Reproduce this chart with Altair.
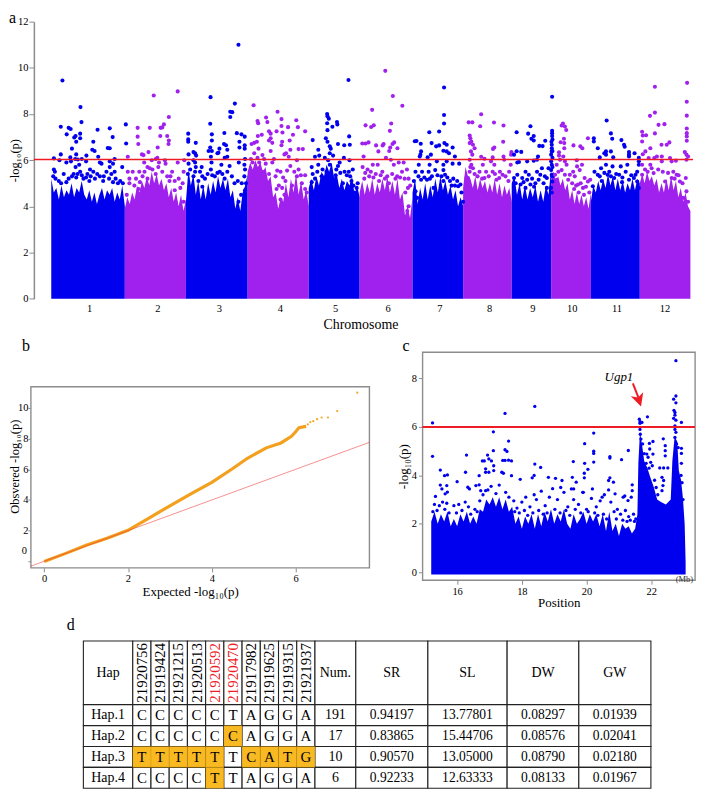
import numpy as np
import pandas as pd
import altair as alt

SERIF = "Liberation Serif"
BLUE = "#0000EE"
PURPLE = "#A020EE"
GRAY = "#8c8c8c"
RED = "#EE1C25"

# ---------- panel a: genome-wide scan ----------
chrom_bounds = [152, 376, 562, 750, 936, 1091, 1252, 1406, 1554, 1674, 1795, 1944, 2098]
chrom_ticks = [267, 475, 662, 848, 1016, 1176, 1334, 1485, 1617, 1737, 1873, 2019]
threshold = 6.03

env = {
    1: [5.2,4.6,4.8,4.3,4.9,4.4,4.7,4.5,5.0,4.4,4.8,4.6,5.1,4.5,4.3,4.7,4.2,4.6,4.1,4.5,4.8,4.3,4.7,4.5,4.8,4.2,4.6,4.3,4.9,4.0],
    2: [3.9,4.4,4.1,4.6,4.3,4.9,4.6,5.1,4.8,5.3,4.9,5.5,5.0,5.4,4.9,5.2,4.7,5.0,4.4,4.8,4.2,4.6,4.0,4.5,3.8,4.3],
    3: [4.2,5.6,4.9,5.4,4.5,5.1,4.3,4.9,4.3,5.0,4.5,5.1,4.6,5.3,4.8,5.2,4.7,5.2,4.4,4.7,3.9,4.4,3.8,4.6,4.9,5.4],
    4: [5.5,5.9,5.6,6.0,5.7,5.9,5.5,5.7,5.1,5.3,4.4,4.6,3.9,4.4,4.2,5.0,4.4,5.2,4.6,5.4,4.5,5.1,4.3,4.7,4.0],
    5: [4.8,5.2,4.7,5.3,4.9,5.5,5.3,5.8,5.5,5.9,5.2,5.4,4.8,5.2,4.7,5.1,4.9,5.3,4.5,4.9,4.4],
    6: [4.6,5.1,4.5,5.0,4.6,5.2,4.5,5.0,4.6,5.2,4.7,5.3,4.6,5.1,4.5,5.2,4.3,4.6,3.6,4.0,3.5,4.4],
    7: [4.6,5.2,4.1,4.8,4.3,5.0,4.3,4.9,4.4,5.2,4.6,5.3,4.7,5.1,4.5,4.9,4.3,4.7,4.0,4.4,4.0],
    8: [4.8,5.7,5.3,5.2,4.8,5.3,4.7,5.2,4.8,5.1,4.6,5.0,4.6,5.2,4.5,5.0,4.4,4.9,4.5,4.8,4.2],
    9: [5.0,5.3,4.5,5.0,4.3,4.9,4.3,4.8,4.4,4.9,4.2,4.7,4.2,4.9,4.5,5.6],
    10: [5.4,5.5,5.1,5.3,4.9,5.2,4.7,5.0,4.3,4.7,4.1,4.6,4.1,4.5,4.0,4.4,3.9,4.6],
    11: [4.2,4.9,4.6,5.1,4.7,5.2,4.8,5.4,4.9,5.3,4.7,5.2,4.7,5.1,4.6,5.0,4.7,5.2,4.7,5.2,5.0],
    12: [5.0,5.4,5.0,5.5,5.1,5.3,4.9,5.2,4.6,5.0,4.6,5.2,4.7,5.3,4.7,5.1,4.4,4.8,4.2,4.6,4.0,3.8],
}

top = {
    1: [(186,9.45),(241,8.3),(244,7.65),(181,7.45),(205,7.4),(211,7.35),(293,7.32),(330,7.38),(379,7.55),(199,7.12),(240,7.15),(226,7.05),(222,6.98),(240,6.95),(228,6.8),(339,7.0),(280,6.8),(380,6.72),(215,6.5),(324,6.53),(330,6.52),(277,6.45),(284,6.4),(181,6.25),(228,6.25),(259,6.2),(160,6.08),(210,6.12),(295,6.15),(177,6.0),(198,5.9),(212,5.95),(225,6.05),(233,6.03),(245,6.05),(258,5.95),(300,5.9),(305,5.85),(330,5.95),(345,6.05),(340,5.85),(160,5.6),(163,5.5),(158,5.3),(165,5.2),(237,5.8),(226,5.7),(240,5.5),(232,5.4),(220,5.4),(190,5.4),(270,5.6),(280,5.5),(262,5.4),(330,5.7),(345,5.5),(368,5.7),(300,5.3),(320,5.5),(335,5.4),(355,5.0),(370,5.0),(205,5.2),(250,5.2),(285,5.2),(310,5.1),
        (175,5.1),(215,5.3),(228,5.25),(245,5.35),(258,5.25),(272,5.3),(292,5.4),(312,5.3),(328,5.2),(348,5.2),(362,5.1),(182,5.0),(198,5.05),(268,5.1),(340,5.05)],
    2: [(537,8.98),(464,8.8),(510,7.87),(415,7.4),(452,7.4),(495,7.55),(490,7.42),(485,7.4),(415,7.02),(484,7.05),(505,7.05),(510,6.85),(509,6.7),(417,6.7),(476,6.55),(448,6.35),(428,6.25),(433,6.22),(385,6.15),(475,6.1),(470,6.05),(458,6.0),(498,6.0),(557,6.0),(537,5.9),(435,5.9),(500,5.85),(480,5.9),(445,5.7),(400,5.5),(385,5.5),(420,5.5),(460,5.6),(490,5.5),(520,5.5),(555,5.5),(540,5.2),(390,5.2),(430,5.3),(505,5.3),(470,5.4),(445,5.2),(512,5.1),(390,5.0),(382,4.5),(395,3.9),(530,4.2),(548,3.8),(535,3.7),(555,4.2),
        (410,5.2),(422,5.05),(436,5.5),(452,5.65),(478,5.7),(515,5.3),(528,5.1),(545,4.8),(552,5.0),(405,4.9),(418,4.75),(528,4.7)],
    3: [(722,11.0),(637,8.73),(711,8.45),(697,8.1),(703,8.08),(697,7.87),(636,7.58),(569,7.15),(641,7.12),(679,7.18),(717,7.17),(731,7.12),(741,7.02),(569,6.9),(569,6.8),(592,6.75),(641,6.85),(678,6.7),(684,6.65),(725,6.8),(725,6.55),(741,6.65),(741,6.5),(636,6.55),(631,6.4),(641,6.4),(664,6.5),(658,6.3),(661,6.32),(688,6.45),(570,6.25),(585,6.35),(590,6.3),(593,6.2),(638,6.15),(680,6.1),(688,6.15),(742,6.05),(585,6.0),(590,5.9),(592,5.7),(590,5.5),(570,5.85),(575,5.6),(568,5.4),(610,5.7),(605,5.5),(640,5.9),(638,5.6),(670,5.8),(665,5.5),(695,5.75),(723,5.9),(740,5.8),(742,5.6),(740,5.3),(745,5.0),(742,4.7),(720,5.1),(620,5.2),(650,5.3),(680,5.2),(710,5.0),(722,4.2),(600,4.3),(622,3.6),(720,3.55),(730,3.55),(598,4.0),(700,4.0),
        (585,5.3),(600,5.1),(612,5.3),(628,5.4),(642,5.35),(658,5.45),(673,5.4),(688,5.5),(702,5.3),(732,5.0),(612,4.85),(730,4.5)],
    4: [(768,8.38),(841,8.1),(853,7.78),(806,7.85),(898,7.73),(780,7.7),(782,7.6),(810,7.65),(873,7.43),(903,7.43),(853,7.48),(838,7.25),(815,7.25),(820,7.15),(925,7.25),(856,7.2),(888,7.1),(793,7.1),(781,7.05),(770,6.75),(762,6.7),(778,6.8),(820,6.95),(815,6.85),(825,6.75),(855,6.8),(878,6.85),(853,6.65),(783,6.5),(820,6.4),(905,6.48),(918,6.48),(880,6.45),(867,6.3),(862,6.25),(770,6.3),(795,6.22),(760,6.05),(780,6.1),(800,6.05),(830,6.05),(875,6.15),(900,6.0),(765,5.9),(785,5.9),(805,5.85),(825,5.9),(850,5.5),(880,5.75),(905,5.6),(925,5.35),(775,5.6),(795,5.5),(815,5.4),(835,5.3),(865,5.1),(900,5.3),(915,5.0),(925,4.75),(845,4.9),(855,4.8),(885,4.9),(930,4.6),
        (840,5.55),(858,5.25),(870,5.55),(892,5.5),(912,5.35),(838,4.75),(850,4.3),(862,4.5)],
    5: [(1057,9.47),(992,8.0),(993,7.9),(997,7.8),(992,7.6),(1022,7.65),(1023,7.55),(1008,7.45),(993,7.3),(1059,7.03),(988,6.95),(948,6.87),(993,6.8),(1025,6.7),(1044,6.65),(1061,6.67),(1000,6.6),(1003,6.5),(965,6.45),(1000,6.3),(968,6.2),(955,6.15),(1010,6.2),(985,6.1),(1043,6.1),(995,6.0),(1060,6.0),(1030,5.9),(945,5.7),(965,5.8),(1000,5.8),(1020,5.6),(1045,5.5),(1058,5.5),(1062,5.3),(1070,5.6),(1072,4.9),(1075,4.6),(955,5.2),(975,5.3),(990,5.5),(1010,5.2),(1040,5.0),(1085,5.0),
        (948,5.4),(962,5.5),(978,5.6),(1018,5.35),(1032,5.45),(1052,5.35),(1066,5.1),(1082,4.8),(1025,5.75),(945,5.05)],
    6: [(1169,9.87),(1192,8.78),(1221,8.36),(1129,8.18),(1187,7.59),(1109,7.51),(1134,7.51),(1126,7.44),(1183,7.27),(1118,6.77),(1109,6.72),(1099,6.72),(1141,6.64),(1164,6.7),(1161,6.64),(1196,6.77),(1191,6.7),(1148,6.38),(1184,6.55),(1181,6.4),(1206,6.52),(1103,6.16),(1171,6.1),(1186,6.02),(1146,5.8),(1131,5.8),(1100,5.7),(1115,5.6),(1125,5.5),(1140,5.4),(1160,5.5),(1175,5.3),(1195,5.8),(1210,5.9),(1225,5.9),(1235,5.6),(1205,5.3),(1220,5.5),(1240,5.2),(1245,4.9),(1105,5.2),(1150,5.1),(1180,5.0),(1230,4.6),(1240,4.0),(1245,3.4),(1236,3.8),
        (1108,5.45),(1120,5.3),(1133,5.25),(1155,5.35),(1168,5.2),(1190,5.4),(1200,5.2),(1214,5.25),(1228,5.2),(1238,4.8)],
    7: [(1348,9.15),(1348,7.96),(1348,7.59),(1333,7.24),(1303,7.21),(1259,6.82),(1264,6.83),(1277,6.71),(1310,6.74),(1324,6.6),(1333,6.64),(1349,6.74),(1356,6.67),(1374,6.55),(1278,6.38),(1346,6.41),(1356,6.38),(1363,6.3),(1308,6.24),(1276,6.24),(1274,6.16),(1298,6.13),(1381,6.16),(1356,5.95),(1326,5.95),(1271,5.8),(1304,5.8),(1346,5.8),(1374,5.85),(1394,5.85),(1261,5.5),(1281,5.5),(1301,5.5),(1321,5.57),(1346,5.57),(1351,5.37),(1278,5.15),(1296,5.15),(1311,5.3),(1346,5.1),(1371,4.9),(1381,4.9),(1391,4.87),(1261,4.65),(1316,4.8),(1401,4.6),(1406,4.2),(1266,4.37),(1318,4.2),
        (1270,5.3),(1288,5.25),(1305,5.2),(1328,5.35),(1340,5.3),(1358,5.25),(1366,5.1),(1376,5.2),(1388,5.1),(1398,4.95),(1256,5.1)],
    8: [(1461,7.99),(1423,7.64),(1434,7.64),(1500,7.63),(1458,7.47),(1529,7.5),(1426,7.07),(1428,6.95),(1431,6.81),(1436,6.67),(1426,6.74),(1528,6.8),(1501,6.55),(1497,6.49),(1441,6.52),(1430,6.38),(1434,6.24),(1553,6.35),(1461,6.15),(1552,6.24),(1496,6.12),(1529,6.16),(1471,6.06),(1426,6.02),(1431,5.8),(1491,5.95),(1501,5.8),(1466,5.8),(1531,6.02),(1551,5.8),(1516,5.23),(1526,5.37),(1456,5.5),(1476,5.5),(1496,5.5),(1471,5.23),(1421,5.23),(1416,5.23),(1426,5.5),(1508,5.15),(1546,5.5),
        (1441,5.4),(1450,5.3),(1464,5.2),(1484,5.3),(1503,5.4),(1518,5.5),(1535,5.3),(1544,5.1),(1428,5.7),(1436,5.65)],
    9: [(1677,8.75),(1611,7.47),(1569,7.21),(1604,7.15),(1621,7.05),(1614,6.93),(1621,6.85),(1656,6.84),(1638,6.62),(1648,6.61),(1677,7.27),(1677,7.17),(1677,7.05),(1569,6.39),(1583,6.36),(1561,6.24),(1634,6.16),(1621,5.98),(1571,5.9),(1576,5.92),(1601,5.95),(1631,6.02),(1676,6.67),(1678,6.9),(1675,6.8),(1676,6.52),(1676,6.38),(1674,6.24),(1678,6.1),(1674,5.95),(1676,5.8),(1674,5.57),(1676,5.37),(1678,5.08),(1674,4.8),(1676,4.6),(1678,6.4),(1678,5.7),(1678,5.3),(1561,5.23),(1571,5.37),(1596,5.5),(1606,5.37),(1586,5.23),(1601,5.15),(1631,5.5),(1646,5.65),(1641,5.37),(1626,5.0),(1651,5.0),(1566,5.0),(1581,4.95),(1661,5.23),(1666,5.65),(1661,4.8),(1611,4.95),
        (1590,5.05),(1616,5.2),(1622,4.85),(1636,5.15),(1655,5.3),(1596,4.8)],
    10: [(1710,7.59),(1706,7.5),(1716,7.46),(1720,7.31),(1713,6.93),(1703,6.78),(1714,6.74),(1786,6.95),(1742,6.64),(1763,6.6),(1769,6.52),(1698,6.34),(1714,6.52),(1698,6.2),(1711,6.16),(1752,6.0),(1716,5.95),(1701,6.02),(1691,5.8),(1721,5.8),(1768,5.8),(1753,5.73),(1696,5.5),(1706,5.57),(1741,5.5),(1761,5.57),(1716,5.37),(1731,5.37),(1686,5.37),(1746,5.3),(1776,5.23),(1793,5.15),(1786,5.08),(1756,4.95),(1771,4.8),(1691,5.15),
        (1726,5.15),(1738,5.0),(1750,4.9),(1764,5.0),(1780,4.85),(1790,4.6),(1744,4.75),(1758,4.6),(1774,4.5)],
    11: [(1843,7.72),(1856,7.16),(1804,6.95),(1804,6.81),(1860,6.93),(1888,6.87),(1896,6.67),(1898,6.58),(1816,6.52),(1841,6.38),(1836,6.3),(1856,6.38),(1911,6.35),(1911,6.24),(1928,6.3),(1911,6.16),(1822,6.12),(1841,6.24),(1863,6.13),(1941,6.1),(1941,5.95),(1806,5.5),(1826,5.65),(1841,5.8),(1861,5.73),(1886,5.73),(1906,5.8),(1941,5.8),(1936,5.5),(1931,5.37),(1816,5.37),(1846,5.37),(1856,5.3),(1866,5.23),(1881,5.37),(1901,5.5),(1911,5.15),(1926,5.23),(1801,4.87),(1806,4.37),(1811,4.2),(1936,5.08),(1941,4.8),
        (1822,5.3),(1836,5.45),(1851,5.5),(1872,5.4),(1891,5.25),(1918,5.35),(1828,5.1),(1890,5.05)],
    12: [(1990,9.18),(2088,9.35),(2087,8.53),(1990,8.06),(1975,7.92),(2087,7.93),(2001,7.53),(2019,7.56),(1951,7.23),(1990,7.16),(1953,7.07),(1963,7.08),(2087,7.37),(2087,7.17),(2087,7.03),(2087,6.84),(2034,6.77),(2010,6.67),(2026,6.67),(1951,6.81),(1976,6.52),(1961,6.38),(1953,6.26),(2081,6.35),(2086,6.24),(2091,6.16),(1996,6.16),(1988,6.09),(2011,6.16),(2036,6.09),(2054,5.98),(1971,6.09),(2086,6.02),(2011,5.95),(2041,5.95),(1951,5.8),(1976,5.8),(2046,5.5),(2056,5.37),(1986,5.44),(1951,5.37),(2041,5.23),(2066,5.08),(2084,5.23),(2086,4.65),(2091,4.2),(2076,4.37),(2021,5.08),
        (1960,5.6),(1968,5.5),(2000,5.6),(2014,5.5),(2030,5.45),(2050,5.2),(2062,5.35),(2074,5.0),(1980,5.65)],
}

# ---------- panel b: QQ plot ----------
qq_x = [0.0, 0.5, 1.0, 1.5, 2.0, 2.5, 3.0, 3.5, 4.0, 4.5, 4.85, 5.3, 5.65, 5.9, 6.0, 6.08, 6.25]
qq_y = [-0.02, 0.5, 1.05, 1.5, 2.02, 2.82, 3.62, 4.4, 5.15, 6.05, 6.72, 7.4, 7.72, 8.15, 8.45, 8.72, 8.8]
tail_x = [6.29, 6.35, 6.42, 6.51, 6.62, 6.77, 6.99, 7.47]
tail_y = [8.93, 9.08, 9.14, 9.27, 9.38, 9.38, 9.8, 11.0]

# ---------- panel c: regional scan ----------
c_env_x = [15.2,15.3,15.4,15.5,15.6,15.7,15.8,15.9,16.0,16.1,16.2,16.3,16.4,16.5,16.6,16.7,16.8,16.9,17.0,17.1,17.2,17.3,17.4,17.5,17.6,17.7,17.8,17.9,18.0,18.1,18.2,18.3,18.4,18.5,18.6,18.7,18.8,18.9,19.0,19.1,19.2,19.3,19.4,19.5,19.6,19.7,19.8,19.9,20.0,20.1,20.2,20.3,20.4,20.5,20.6,20.7,20.8,20.9,21.0,21.1,21.2,21.3,21.4,21.5,21.57,21.6,21.65,21.72,21.78,21.88,21.95,22.08,22.18,22.3,22.45,22.6,22.65,22.72,22.8,22.85,22.92,22.98,23.03,23.06]
c_env_y = [2.1,2.5,2.0,2.4,2.1,2.5,1.9,2.2,1.9,2.4,2.1,2.5,2.0,2.3,2.0,2.6,2.5,3.0,2.8,3.1,2.7,3.1,2.6,3.0,2.5,2.7,2.0,2.3,1.8,2.3,2.0,2.4,1.8,2.4,1.9,2.5,2.1,2.6,2.0,2.4,2.1,2.6,2.0,1.8,2.4,2.0,2.2,2.5,2.0,2.4,2.1,2.4,1.9,2.4,1.7,2.5,1.7,2.0,1.5,2.0,1.8,1.9,1.6,1.8,2.4,4.5,5.8,5.2,4.6,4.3,4.0,3.5,3.0,2.9,2.8,3.0,4.6,5.6,5.4,4.2,3.8,3.0,2.0,0.4]
c_pts = [(15.24,6.17),(15.24,4.79),(17.48,6.56),(18.4,6.85),(17.12,5.8),(17.59,5.42),(20.22,5.75),(19.94,5.31),(16.29,4.84),(16.94,4.84),(17.12,5.02),(17.48,5.06),(17.54,4.99),(16.78,4.6),(16.84,4.6),(17.41,4.62),(17.48,4.62),(17.59,4.63),(17.68,4.6),(16.98,4.68),(17.06,4.6),(18.4,4.47),(18.58,4.33),(19.59,4.57),(19.94,4.5),(20.22,5.0),(20.22,4.91),(20.22,4.55),(20.72,4.77),(20.72,4.72),(21.08,4.65),(21.29,5.03),(15.48,4.22),(16.26,4.13),(15.61,3.99),(15.7,4.02),(16.68,3.99),(16.88,4.27),(16.98,4.13),(16.88,4.13),(17.13,4.4),(17.13,4.2),(17.38,4.13),(17.43,4.09),(17.68,3.99),(20.04,4.25),(19.93,4.09),(19.93,3.9),(19.56,3.92),(18.82,3.92),(19.04,3.88),(19.24,3.79),(18.32,3.9),(18.38,4.0),(17.95,3.84),(16.0,3.74),(15.48,3.6),(15.53,3.44),(15.68,3.58),(15.63,3.24),(15.7,3.31),(15.33,3.13),(16.33,3.51),(16.38,3.44),(16.58,3.58),(16.68,3.61),(16.73,3.37),(16.88,3.37),(19.68,3.72),(19.53,3.44),(19.6,3.44),(19.88,3.3),(20.18,3.44),(20.48,3.1),(20.72,3.9),(20.68,3.79),(20.83,3.72),(20.88,3.24),(21.13,3.1),(21.18,3.15),(21.41,3.61),(21.41,3.37),(21.28,2.96),(21.38,3.1),
    (21.63,6.32),(21.65,6.22),(21.71,6.19),(21.65,6.15),(21.88,6.42),(22.05,5.4),(21.94,5.32),(21.65,5.9),(21.66,5.7),(21.68,5.5),(21.73,5.3),(21.95,5.09),(22.05,4.88),(21.86,4.88),(21.98,4.54),(22.03,4.4),(21.9,4.75),(21.78,4.9),(21.84,4.5),(21.93,4.3),(22.1,3.8),(22.15,3.5),(22.2,3.2),
    (22.76,8.74),(22.76,7.28),(22.69,7.15),(22.76,7.0),(22.7,6.69),(22.73,6.6),(22.73,6.49),(22.69,6.36),(22.76,6.28),(22.93,6.19),(22.73,6.05),(22.73,5.9),(22.76,5.78),(22.73,5.57),(22.78,5.3),(22.83,5.15),(22.93,5.12),(22.93,4.91),(22.93,4.5),(22.37,5.51),(22.43,5.23),(22.43,5.02),(22.43,4.81),(22.26,4.31),(22.38,4.31),(22.51,4.31),(22.33,3.92),(22.38,3.79),(22.36,3.58),(22.33,3.37),(22.92,4.0),(22.95,3.7),(22.98,3.0),
    (15.3,2.8),(15.45,2.75),(15.55,2.9),(15.68,2.85),(15.9,2.75),(16.05,2.8),(16.25,2.9),(16.35,2.7),(16.55,2.6),(16.7,2.95),(16.8,3.2),(16.95,3.4),(17.05,3.55),(17.2,3.25),(17.3,3.6),(17.5,3.3),(17.6,3.1),(17.75,2.95),(17.85,2.65),(18.0,2.9),(18.12,3.1),(18.25,2.7),(18.38,3.2),(18.45,3.0),(18.6,3.35),(18.72,2.75),(18.85,3.1),(18.95,3.45),(19.1,3.0),(19.2,3.5),(19.3,3.3),(19.42,2.7),(19.6,3.0),(19.75,2.8),(19.9,3.3),(20.0,2.6),(20.15,3.05),(20.3,2.7),(20.42,2.95),(20.55,3.2),(20.68,3.4),(20.75,2.9),(20.85,2.5),(20.95,2.6),(21.05,2.4),(21.2,2.55),(21.3,2.3),(21.45,2.4),(21.52,2.2),
    (15.25,2.5),(15.38,2.55),(15.62,2.6),(15.75,2.45),(15.98,2.45),(16.15,2.55),(16.42,2.4),(16.62,2.5),(17.78,2.5),(17.92,2.45),(18.08,2.55),(18.18,2.35),(18.34,2.45),(18.52,2.55),(18.66,2.4),(18.78,2.45),(19.02,2.6),(19.18,2.45),(19.36,2.55),(19.48,2.35),(19.65,2.6),(19.82,2.45),(20.05,2.5),(20.25,2.45),(20.35,2.35),(20.52,2.4),(20.62,2.2),(20.92,2.2),(21.12,2.15),(21.25,2.1),(21.35,2.15),(21.48,2.1)]
c_threshold = 6.0
c_gene = "Ugp1"

# ---------- panel d: haplotype table ----------
sites = ["21920756", "21919424", "21921215", "21920513", "21920592", "21920470", "21917982", "21919625", "21919315", "21921937"]
red_sites = ["21920592", "21920470"]
traits = ["SR", "SL", "DW", "GW"]
haps = ["Hap.1", "Hap.2", "Hap.3", "Hap.4"]
alleles = ["CCCCCTAGGA", "CCCCCCAGGA", "TTTTTTCATG", "CCCCTTAGGA"]
counts = ["191", "17", "10", "6"]
sr = ["0.94197", "0.83865", "0.90570", "0.92233"]
sl = ["13.77801", "15.44706", "13.05000", "12.63333"]
dw = ["0.08297", "0.08576", "0.08790", "0.08133"]
gw = ["0.01939", "0.02041", "0.02180", "0.01967"]
highlight = {(1, 5), (2, 0), (2, 1), (2, 2), (2, 3), (2, 4), (2, 6), (2, 7), (2, 8), (2, 9), (3, 4)}
col_widths = [49.6] + [18.3] * 10 + [41, 72.4, 79.6, 72, 72.4]
row_heights = [64, 21, 21, 21, 21]


def letter(txt, x, y):
    return alt.Chart(pd.DataFrame({"t": [txt]})).mark_text(
        font=SERIF, fontSize=16, align="left", baseline="top", color="black"
    ).encode(text="t:N", x=alt.value(x), y=alt.value(y))


def anchor(x, y=0):
    return alt.Chart(pd.DataFrame({"a": [0]})).mark_rule(opacity=0).encode(
        x=alt.value(x), y=alt.value(y), y2=alt.value(y + 1))


# ----- chart a -----
rows = []
for c, vals in env.items():
    for p, v in zip(np.linspace(chrom_bounds[c - 1], chrom_bounds[c], len(vals)), vals):
        rows.append({"chr": c, "pos": float(p), "val": v, "grp": "odd" if c % 2 else "even"})
env_df = pd.DataFrame(rows)
pts_df = pd.DataFrame([
    {"chr": c, "pos": p, "val": v, "grp": "odd" if c % 2 else "even"}
    for c, lst in top.items() for p, v in lst])

asx = alt.Scale(domain=[90, 2106])
asy = alt.Scale(domain=[0, 12])
ax = alt.X("pos:Q", scale=asx,
           axis=alt.Axis(values=chrom_ticks, labelExpr=f"indexof({chrom_ticks}, datum.value)+1",
                         domain=False, ticks=False, labelPadding=5, grid=False, title="Chromosome",
                         titleFontSize=14, titlePadding=3, titleX=331, labelFontSize=10.5))
ay = alt.Y("val:Q", stack=None, scale=asy,
           axis=alt.Axis(values=[0, 2, 4, 6, 8, 10, 12], grid=False, title="-log₁₀(p)", titleFontSize=12.5,
                         domainColor=GRAY, domainWidth=1.5, tickColor=GRAY, tickSize=5, labelFontSize=10.5,
                         labelPadding=1, offset=-3, titlePadding=-4))
colr = alt.Color("grp:N", scale=alt.Scale(domain=["odd", "even"], range=[BLUE, PURPLE]), legend=None)
a_area = alt.Chart(env_df).mark_area(line=False).encode(x=ax, y=ay, color=colr, detail="chr:N")
a_pts = alt.Chart(pts_df).mark_circle(size=17, opacity=1).encode(
    x=alt.X("pos:Q", scale=asx), y=alt.Y("val:Q", scale=asy), color=colr)
a_red = alt.Chart(pd.DataFrame({"x0": [99], "x1": [2106], "y": [threshold]})).mark_rule(
    color=RED, strokeWidth=1.6).encode(x=alt.X("x0:Q", scale=asx), x2="x1:Q", y=alt.Y("y:Q", scale=asy))
chart_a = alt.layer(a_area, a_pts, a_red, letter("a", -22, -11.7)).properties(width=665, height=278.3)

# ----- chart b -----
bsx = alt.Scale(domain=[-0.316, 7.76])
bsy = alt.Scale(domain=[-1.235, 13.64])
bx = alt.X("x:Q", scale=bsx,
           axis=alt.Axis(values=[0, 2, 4, 6], grid=False, domain=False, offset=-12.4, tickColor=GRAY, tickSize=4,
                         labelFontSize=10.5, labelPadding=2, title="Expected -log₁₀(p)", titleFontSize=13,
                         titlePadding=1, titleX=160))
by = alt.Y("y:Q", scale=bsy,
           axis=alt.Axis(values=[0, 2, 4, 6, 8, 10], labelExpr="datum.value == 0 ? '' : datum.value", grid=False,
                         domain=False, tickColor=GRAY, tickSize=3, labelFontSize=10.5, labelPadding=0,
                         title="Obsvered -log₁₀(p)", titleFontSize=12.5, titlePadding=-4))
bx0 = alt.X("x:Q", scale=bsx)
by0 = alt.Y("y:Q", scale=bsy)
b_frame = alt.Chart(pd.DataFrame({"x": [-0.316], "x2": [7.76], "y": [-0.43], "y2": [11.39]})).mark_rect(
    fill="white", stroke=GRAY, strokeWidth=1.4).encode(x=bx, x2="x2:Q", y=by, y2="y2:Q")
b_curve = alt.Chart(pd.DataFrame({"x": qq_x, "y": qq_y})).mark_line(color="#F2A01E", strokeWidth=3.2).encode(
    x=bx0, y=by0)
b_tail = alt.Chart(pd.DataFrame({"x": tail_x, "y": tail_y})).mark_circle(color="#F5A623", size=5, opacity=1).encode(
    x=bx0, y=by0)
b_line = alt.Chart(pd.DataFrame({"x": [-0.316], "x2": [7.76], "y": [-0.316], "y2": [7.76]})).mark_rule(
    color="#EE3333", strokeWidth=1, opacity=0.55).encode(x=bx0, x2="x2:Q", y=by0, y2="y2:Q")
b_zero = alt.Chart(pd.DataFrame({"y": [0.7], "t": ["0"]})).mark_text(
    font=SERIF, fontSize=10.5, align="right", baseline="middle").encode(x=alt.value(-4), y=by0, text="t:N")
chart_b = alt.layer(b_frame, b_curve, b_tail, b_line, b_zero, letter("b", -9, -14), anchor(-22)).properties(
    width=340, height=229)

# ----- chart c -----
csx = alt.Scale(domain=[14.93, 23.35])
csy = alt.Scale(domain=[-0.33, 9.09])
cx = alt.X("x:Q", scale=csx,
           axis=alt.Axis(values=[16, 18, 20, 22], grid=False, domain=False, tickColor=GRAY, tickSize=4,
                         labelFontSize=10.5, labelPadding=2, title="Position", titleFontSize=13, titlePadding=0))
cy = alt.Y("y:Q", scale=csy,
           axis=alt.Axis(values=[0, 2, 4, 6, 8], grid=False, domain=False, tickColor=GRAY, tickSize=4,
                         labelFontSize=10.5, labelPadding=2, title="-log₁₀(p)", titleFontSize=13, titlePadding=1))
cx0 = alt.X("x:Q", scale=csx)
cy0 = alt.Y("y:Q", scale=csy)
c_area = alt.Chart(pd.DataFrame({"x": c_env_x, "y": c_env_y})).mark_area(color=BLUE).encode(
    x=cx, y=cy, y2=alt.datum(-0.09))
c_dots = alt.Chart(pd.DataFrame(c_pts, columns=["x", "y"])).mark_circle(color=BLUE, size=11, opacity=1).encode(
    x=cx0, y=cy0)
c_red = alt.Chart(pd.DataFrame({"x": [14.93], "x1": [23.35], "y": [c_threshold]})).mark_rule(
    color=RED, strokeWidth=2).encode(x=cx0, x2="x1:Q", y=cy0)
c_shaft = alt.Chart(pd.DataFrame({"x": [21.43], "x2": [21.62], "y": [7.8], "y2": [7.15]})).mark_rule(
    color=RED, strokeWidth=2).encode(x=cx0, x2="x2:Q", y=cy0, y2="y2:Q")
c_head = alt.Chart(pd.DataFrame({"x": [21.62], "y": [7.1]})).mark_point(
    shape="M0,1 L-1,-1 L0,-0.45 L1,-1 Z", filled=True, color=RED, size=170, angle=342, opacity=1).encode(
    x=cx0, y=cy0)
c_label = alt.Chart(pd.DataFrame({"x": [21.0], "y": [8.05], "t": [c_gene]})).mark_text(
    font=SERIF, fontSize=13, fontStyle="italic", color="black").encode(x=cx0, y=cy0, text="t:N")
c_mb = alt.Chart(pd.DataFrame({"x": [23.02], "y": [-0.3], "t": ["(Mb)"]})).mark_text(
    font=SERIF, fontSize=8.5, color="#333").encode(x=cx0, y=cy0, text="t:N")
chart_c = alt.layer(c_area, c_dots, c_red, c_shaft, c_head, c_label, c_mb, letter("c", -20, -14)).properties(
    width=273.7, height=229, view=alt.ViewConfig(stroke=GRAY, strokeWidth=1.4))

# ----- chart d -----
col_edges = np.concatenate([[0], np.cumsum(col_widths)])
row_edges = np.concatenate([[0], np.cumsum(row_heights)])
cells = []
header = ["Hap"] + sites + ["Num."] + traits
body = [[haps[i]] + list(alleles[i]) + [counts[i], sr[i], sl[i], dw[i], gw[i]] for i in range(4)]
for r, row in enumerate([header] + body):
    for c, txt in enumerate(row):
        site_cell = r == 0 and 1 <= c <= 10
        cells.append({
            "x": col_edges[c], "x2": col_edges[c + 1], "y": row_edges[r], "y2": row_edges[r + 1],
            "xm": (col_edges[c] + col_edges[c + 1]) / 2, "ym": (row_edges[r] + row_edges[r + 1]) / 2,
            "t": txt, "rot": site_cell, "col": RED if txt in red_sites else "black",
            "orange": r > 0 and (r - 1, c - 1) in highlight,
            "fs": 14 if c == 0 else (13.6 if c >= 12 and r > 0 else (14 if r == 0 else (14 if c == 11 else 15))),
        })
cell_df = pd.DataFrame(cells)
dxs = alt.Scale(domain=[-52.7, 570])
dys = alt.Scale(domain=[0, 148], reverse=True)
d_grid = alt.Chart(cell_df).mark_rect(fill="white", stroke="#222", strokeWidth=1.1).encode(
    x=alt.X("x:Q", scale=dxs, axis=None), x2="x2:Q", y=alt.Y("y:Q", scale=dys, axis=None), y2="y2:Q")
d_fill = alt.Chart(cell_df[cell_df.orange]).mark_rect(fill="#F8B412", opacity=0.93).encode(
    x=alt.X("x:Q", scale=dxs, axis=None), x2="x2:Q", y=alt.Y("y:Q", scale=dys, axis=None), y2="y2:Q")
d_txt = alt.Chart(cell_df[~cell_df.rot]).mark_text(font=SERIF, baseline="middle", align="center").encode(
    x=alt.X("xm:Q", scale=dxs, axis=None), y=alt.Y("ym:Q", scale=dys, axis=None), text="t:N",
    size=alt.Size("fs:Q", scale=None), color=alt.Color("col:N", scale=None))
d_rot = alt.Chart(cell_df[cell_df.rot]).mark_text(font=SERIF, fontSize=15, angle=270, baseline="middle",
                                                  align="center").encode(
    x=alt.X("xm:Q", scale=dxs, axis=None), y=alt.Y("ym:Q", scale=dys, axis=None), text="t:N",
    color=alt.Color("col:N", scale=None))
chart_d = alt.layer(d_grid, d_fill, d_txt, d_rot, letter("d", 36, -24), anchor(-22)).properties(
    width=622.7, height=148)

row2 = alt.hconcat(chart_b, chart_c, spacing=53.3, bounds="flush")
chart = alt.vconcat(chart_a, row2, chart_d, spacing=6).properties(padding=0).configure_view(stroke=None).configure_axis(
    labelFont=SERIF, titleFont=SERIF, labelColor="black", titleColor="black", titleFontWeight="normal"
).resolve_scale(color="independent")
chart.save("out.html", embed_options={"renderer": "svg", "actions": False})
